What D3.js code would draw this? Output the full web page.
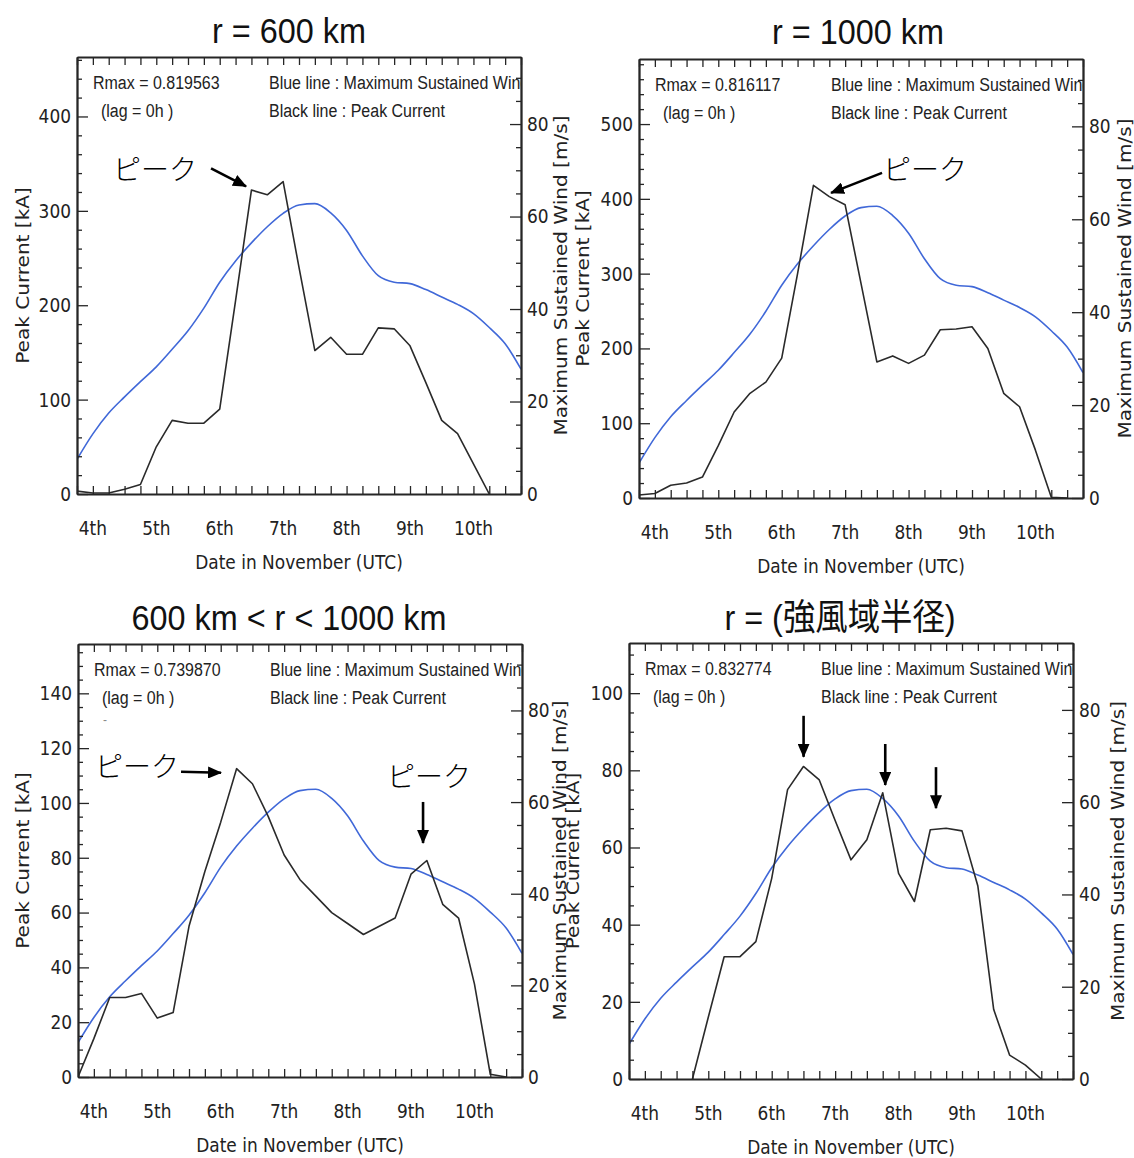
<!DOCTYPE html>
<html><head><meta charset="utf-8">
<script src="https://cdn.jsdelivr.net/npm/d3@7"></script>
<style>body{margin:0;background:#fff} svg{display:block}</style>
</head><body>
<svg id="c" width="1134" height="1158"></svg>
<script>
// ---------------- data ----------------
const startTime = Date.UTC(2013, 10, 3, 18);   // first sample: Nov 3, 18 UTC
const stepHours = 6;                            // samples every 6 h
const dayLabels = ["4th", "5th", "6th", "7th", "8th", "9th", "10th"];

// Maximum sustained wind [m/s] (blue, same in every panel)
const windMS = [7.5, 13, 17.5, 21, 24.3, 27.5, 31.3, 35.3, 40.2, 45.8, 50.4, 54.3, 57.8, 60.7,
                62.5, 62.8, 60.8, 57, 51.5, 47.2, 45.8, 45.5, 44.2, 42.6, 41, 39, 36, 32.5, 27];

// Peak current [kA] (black)
const peak600 = [3, 1, 1, 5, 10, 50, 78, 75, 75, 90, 205, 322, 317, 331, 240, 152, 166, 148, 148,
                 176, 175, 157, 118, 78, 64, 32, 0];
const peak1000 = [4, 6, 17, 20, 28, 70, 115, 140, 155, 187, 300, 418, 403, 392, 287, 182, 190, 180,
                  191, 225, 226, 229, 200, 140, 122, 64, 1, 0];
const peakBetween = [0, 14, 29, 29, 30.5, 21.5, 23.5, 55, 75, 93, 112.5, 107, 95, 81, 72, 66, 60, 56,
                     52, 55, 58, 74, 79, 63, 58, 34, 1, 0];
const peakGale = [null, null, null, null, 0, 16, 31.7, 31.7, 35.6, 52, 75, 81, 77.5, 67, 56.8, 62,
                  74.2, 53.3, 46, 64.6, 65, 64.3, 50, 18, 6.2, 3.6, 0];

const titles = ["r = 600 km", "r = 1000 km", "600 km < r < 1000 km", "r = (強風域半径)"];
const rmaxValues = ["0.819563", "0.816117", "0.739870", "0.832774"];
const kaAxisMax = [463, 587, 158, 113];
const kaTickValues = [[0, 100, 200, 300, 400], [0, 100, 200, 300, 400, 500],
                      [0, 20, 40, 60, 80, 100, 120, 140], [0, 20, 40, 60, 80, 100]];
const windAxisMax = 94.5;
const windTickValues = [0, 20, 40, 60, 80];

// peak annotations: anchor in data space (sample index, kA)
const peakNotes = [
  [{t: 10.66, v: 326, kind: "left"}],
  [{t: 12.11, v: 408, kind: "right"}],
  [{t: 9.02, v: 111, kind: "left2"}, {t: 21.76, v: 85.4, kind: "down"}],
  [{t: 11.01, v: 83.5, kind: "plain"}, {t: 16.16, v: 76.2, kind: "plain"}, {t: 19.36, v: 70.2, kind: "plain"}]
];

// ---------------- layout ----------------
const layout = [
  {x0: 77, x1: 521, y0: 57, y1: 494, titleX: 289, titleY: 43, leftLabelX: 29, rightLabelX: 567, kaMinor: 20},
  {x0: 639, x1: 1083, y0: 59, y1: 498, titleX: 858, titleY: 44, leftLabelX: 589, rightLabelX: 1131, kaMinor: 20},
  {x0: 78, x1: 522, y0: 644, y1: 1077, titleX: 289, titleY: 630, leftLabelX: 29, rightLabelX: 566, kaMinor: 5},
  {x0: 629, x1: 1073, y0: 643, y1: 1079, titleX: 840, titleY: 630, leftLabelX: 579, rightLabelX: 1124, kaMinor: 5}
];
const noteGeom = {
  left:  {dx: -35, dy: -18, tx: -14, ty: 2, anchor: "end"},
  right: {dx: 51, dy: -20, tx: 1, ty: -3, anchor: "start"},
  left2: {dx: -40, dy: -1, tx: -2, ty: -5, anchor: "end"},
  down:  {dx: 0, dy: -41, tx: 6, ty: -25, anchor: "middle"},
  plain: {dx: 0, dy: -41}
};
const series = [peak600, peak1000, peakBetween, peakGale];
const blue = "#4068d8", ink = "#262626";
const stretch = 1.18;
const tickFont = "'DejaVu Sans', sans-serif";

// ---------------- drawing ----------------
const svg = d3.select("#c");
svg.append("rect").attr("width", 1134).attr("height", 1158).attr("fill", "#fff");
const defs = svg.append("defs");
defs.append("marker").attr("id", "ah").attr("viewBox", "0 0 14 12")
  .attr("refX", 13).attr("refY", 6).attr("markerWidth", 14).attr("markerHeight", 12)
  .attr("markerUnits", "userSpaceOnUse").attr("orient", "auto")
  .append("path").attr("d", "M0,0 L14,6 L0,12 Z").attr("fill", "#000");

const sampleTime = i => new Date(startTime + i * stepHours * 3600e3);
const lastIndex = windMS.length - 1;

function styleAxis(g) {
  g.attr("font-family", tickFont).attr("font-size", 17);
  g.select(".domain").attr("stroke", ink).attr("stroke-width", 1.8);
  g.selectAll(".tick line").attr("stroke", ink).attr("stroke-width", 1.3);
  g.selectAll(".tick text").attr("fill", "#222").attr("transform", `scale(1,${stretch})`);
}

function vLabel(x, y, str) {
  svg.append("text")
    .attr("transform", `translate(${x},${y}) scale(1,${stretch}) rotate(-90)`)
    .attr("text-anchor", "middle").attr("font-family", tickFont).attr("font-size", 17)
    .attr("fill", "#222").text(str);
}

layout.forEach((p, k) => {
  const g = svg.append("g");
  const x = d3.scaleUtc().domain([sampleTime(0), sampleTime(lastIndex)]).range([p.x0, p.x1]);
  const yKA = d3.scaleLinear().domain([0, kaAxisMax[k]]).range([p.y1, p.y0]);
  const yW = d3.scaleLinear().domain([0, windAxisMax]).range([p.y1, p.y0]);

  defs.append("clipPath").attr("id", "clip" + k).append("rect")
    .attr("x", p.x0).attr("y", p.y0).attr("width", p.x1 - p.x0).attr("height", p.y1 - p.y0);
  const body = g.append("g").attr("clip-path", `url(#clip${k})`);

  // inner texts
  const inner = (tx, ty, s) => body.append("text")
    .attr("transform", `translate(${tx},${ty}) scale(1,1.1)`)
    .attr("font-family", "'Liberation Sans', Arial, sans-serif").attr("font-size", 16)
    .attr("fill", "#222").text(s);
  inner(p.x0 + 16, p.y0 + 32, "Rmax = " + rmaxValues[k]);
  inner(p.x0 + 24, p.y0 + 60, "(lag = 0h )");
  inner(p.x0 + 192, p.y0 + 32, "Blue line : Maximum Sustained Wind");
  inner(p.x0 + 192, p.y0 + 60, "Black line : Peak Current");
  if (k === 2) body.append("text").attr("x", p.x0 + 25).attr("y", p.y0 + 80)
    .attr("font-family", "'Liberation Sans', sans-serif").attr("font-size", 12)
    .attr("fill", "#888").text("-");

  // lines
  body.append("path").datum(windMS)
    .attr("d", d3.line().x((d, i) => x(sampleTime(i))).y(d => yW(d)).curve(d3.curveMonotoneX))
    .attr("fill", "none").attr("stroke", blue).attr("stroke-width", 1.6);
  body.append("path").datum(series[k])
    .attr("d", d3.line().defined(d => d != null).x((d, i) => x(sampleTime(i))).y(d => yKA(d)))
    .attr("fill", "none").attr("stroke", "#2a2a2a").attr("stroke-width", 1.6)
    .attr("stroke-linejoin", "round");

  // axes
  const sixHourly = d3.utcHour.every(stepHours).range(sampleTime(0), new Date(+sampleTime(lastIndex) + 1));
  g.append("g").attr("transform", `translate(0,${p.y1})`)
    .call(d3.axisBottom(x).tickValues(sixHourly).tickSize(-8).tickSizeOuter(0).tickFormat(""))
    .call(styleAxis);
  g.append("g").attr("transform", `translate(0,${p.y0})`)
    .call(d3.axisTop(x).tickValues(sixHourly).tickSize(-8).tickSizeOuter(0).tickFormat(""))
    .call(styleAxis);

  const kaMinorVals = d3.range(0, kaAxisMax[k], p.kaMinor).filter(v => !kaTickValues[k].includes(v));
  g.append("g").attr("transform", `translate(${p.x0},0)`)
    .call(d3.axisLeft(yKA).tickValues(kaMinorVals).tickSize(-5).tickSizeOuter(0).tickFormat(""))
    .call(styleAxis);
  g.append("g").attr("transform", `translate(${p.x0},0)`)
    .call(d3.axisLeft(yKA).tickValues(kaTickValues[k]).tickSize(-11).tickSizeOuter(0).tickPadding(6))
    .call(styleAxis);

  const wMinorVals = d3.range(0, windAxisMax, 5).filter(v => !windTickValues.includes(v));
  g.append("g").attr("transform", `translate(${p.x1},0)`)
    .call(d3.axisRight(yW).tickValues(wMinorVals).tickSize(-5).tickSizeOuter(0).tickFormat(""))
    .call(styleAxis);
  g.append("g").attr("transform", `translate(${p.x1},0)`)
    .call(d3.axisRight(yW).tickValues(windTickValues).tickSize(-11).tickSizeOuter(0).tickPadding(6))
    .call(styleAxis);

  // day labels
  const days = d3.utcDay.range(sampleTime(0), sampleTime(lastIndex));
  days.forEach((d, j) => {
    g.append("text").attr("transform", `translate(${x(d)},${p.y1 + 41}) scale(1,${stretch})`)
      .attr("text-anchor", "middle").attr("font-family", tickFont).attr("font-size", 17)
      .attr("fill", "#222").text(dayLabels[j]);
  });
  g.append("text").attr("transform", `translate(${(p.x0 + p.x1) / 2},${p.y1 + 75}) scale(1,${stretch})`)
    .attr("text-anchor", "middle").attr("font-family", tickFont).attr("font-size", 17)
    .attr("fill", "#222").text("Date in November (UTC)");

  // axis titles
  const cy = (p.y0 + p.y1) / 2;
  vLabel(p.leftLabelX, cy, "Peak Current [kA]");
  vLabel(p.rightLabelX, cy, "Maximum Sustained Wind [m/s]");

  // title
  svg.append("text").attr("transform", `translate(${p.titleX},${p.titleY}) scale(0.9,1)`)
    .attr("text-anchor", "middle")
    .attr("font-family", "'Liberation Sans', 'Noto Sans CJK JP', sans-serif")
    .attr("font-size", 36).attr("fill", "#111").text(titles[k]);

  // peak annotations
  peakNotes[k].forEach(n => {
    const geom = noteGeom[n.kind];
    const tipX = x(sampleTime(n.t)), tipY = yKA(n.v);
    const tailX = tipX + geom.dx, tailY = tipY + geom.dy;
    svg.append("line").attr("x1", tailX).attr("y1", tailY).attr("x2", tipX).attr("y2", tipY)
      .attr("stroke", "#000").attr("stroke-width", 2.6).attr("marker-end", "url(#ah)");
    if (geom.anchor) {
      svg.append("text").attr("x", tailX + geom.tx).attr("y", tailY + geom.ty).attr("dy", "0.36em")
        .attr("text-anchor", geom.anchor)
        .attr("font-family", "'Noto Sans CJK JP', sans-serif").attr("font-weight", 300)
        .attr("font-size", 28).attr("fill", "#000").text("ピーク");
    }
  });
});
</script>
</body></html>
